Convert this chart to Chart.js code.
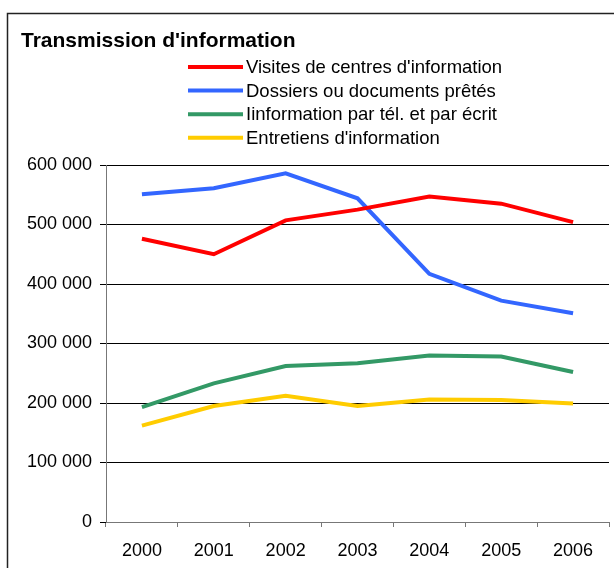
<!DOCTYPE html>
<html>
<head>
<meta charset="utf-8">
<script src="https://cdn.jsdelivr.net/npm/chart.js@4.4.1/dist/chart.umd.min.js"></script>
<style>
  body { margin: 0; background: #fff; }
</style>
</head>
<body>
<canvas id="out" width="614" height="568"></canvas>
<script>
// donnees
const years = ["2000", "2001", "2002", "2003", "2004", "2005", "2006"];
const visites = [476000, 450000, 507000, 525000, 547000, 535000, 504000];
const dossiers = [551000, 561000, 586000, 544000, 417000, 372000, 351000];
const telEcrit = [193000, 233000, 262000, 267000, 280000, 278000, 252000];
const entretiens = [162000, 195000, 212000, 195000, 206000, 205000, 199000];
const yTicks = [0, 100000, 200000, 300000, 400000, 500000, 600000];

const titleText = "Transmission d'information";
const FONT = "'Liberation Sans', Arial, sans-serif";

function fmt(v) {
  return String(v).replace(/\B(?=(\d{3})+(?!\d))/g, " ");
}

// cadre, titre et legende
const decor = {
  id: "decor",
  beforeDraw(chart) {
    const ctx = chart.ctx;
    ctx.save();
    ctx.fillStyle = "#fff";
    ctx.fillRect(0, 0, chart.width, chart.height);
    ctx.restore();
  },
  afterDraw(chart) {
    const ctx = chart.ctx;
    ctx.save();
    ctx.strokeStyle = "#222";
    ctx.lineWidth = 1.5;
    ctx.beginPath();
    ctx.moveTo(7.5, chart.height + 2);
    ctx.lineTo(7.5, 13.5);
    ctx.lineTo(chart.width + 2, 13.5);
    ctx.stroke();

    ctx.fillStyle = "#000";
    ctx.font = "bold 21px " + FONT;
    ctx.textBaseline = "middle";
    ctx.textAlign = "left";
    ctx.fillText(titleText, 21, 41);

    ctx.font = "18.5px " + FONT;
    chart.data.datasets.forEach(function(ds, i) {
      const y = 67 + i * 23.6;
      ctx.strokeStyle = ds.borderColor;
      ctx.lineWidth = 4;
      ctx.beginPath();
      ctx.moveTo(188, y);
      ctx.lineTo(243, y);
      ctx.stroke();
      ctx.fillStyle = "#000";
      ctx.fillText(ds.label, 246, y + 1);
    });
    ctx.restore();
  }
};

const canvasCtx = document.getElementById("out").getContext("2d");

const chartConfig = {
  type: "line",
  data: {
    labels: years,
    datasets: [
      { label: "Visites de centres d'information", data: visites, borderColor: "#FF0000" },
      { label: "Dossiers ou documents prêtés", data: dossiers, borderColor: "#3366FF" },
      { label: "Iinformation par tél. et par écrit", data: telEcrit, borderColor: "#339966" },
      { label: "Entretiens d'information", data: entretiens, borderColor: "#FFCC00" }
    ].map(ds => Object.assign(ds, {
      borderWidth: 4,
      pointRadius: 0,
      tension: 0,
      fill: false
    }))
  },
  options: {
    responsive: false,
    animation: false,
    layout: { padding: { top: 165, right: 5, left: 0, bottom: 0 } },
    plugins: {
      legend: { display: false },
      title: { display: false },
      tooltip: { enabled: false }
    },
    scales: {
      x: {
        offset: true,
        grid: { offset: true, drawOnChartArea: false, drawTicks: true, tickLength: 5, color: "#777" },
        border: { color: "#777", width: 1 },
        ticks: { color: "#000", font: { family: FONT, size: 18 }, padding: 13, maxRotation: 0 },
        afterFit(scale) { scale.height = 46; }
      },
      y: {
        min: 0,
        max: 600000,
        afterBuildTicks(scale) { scale.ticks = yTicks.map(v => ({ value: v })); },
        grid: { color: "#000", lineWidth: 1, tickLength: 6 },
        border: { color: "#777", width: 1 },
        ticks: {
          color: "#000",
          font: { family: FONT, size: 18 },
          padding: 8,
          callback: v => fmt(v)
        },
        afterFit(scale) { scale.width = 106; }
      }
    }
  },
  plugins: [decor]
};

window.chart = new Chart(canvasCtx, chartConfig);
</script>
</body>
</html>
